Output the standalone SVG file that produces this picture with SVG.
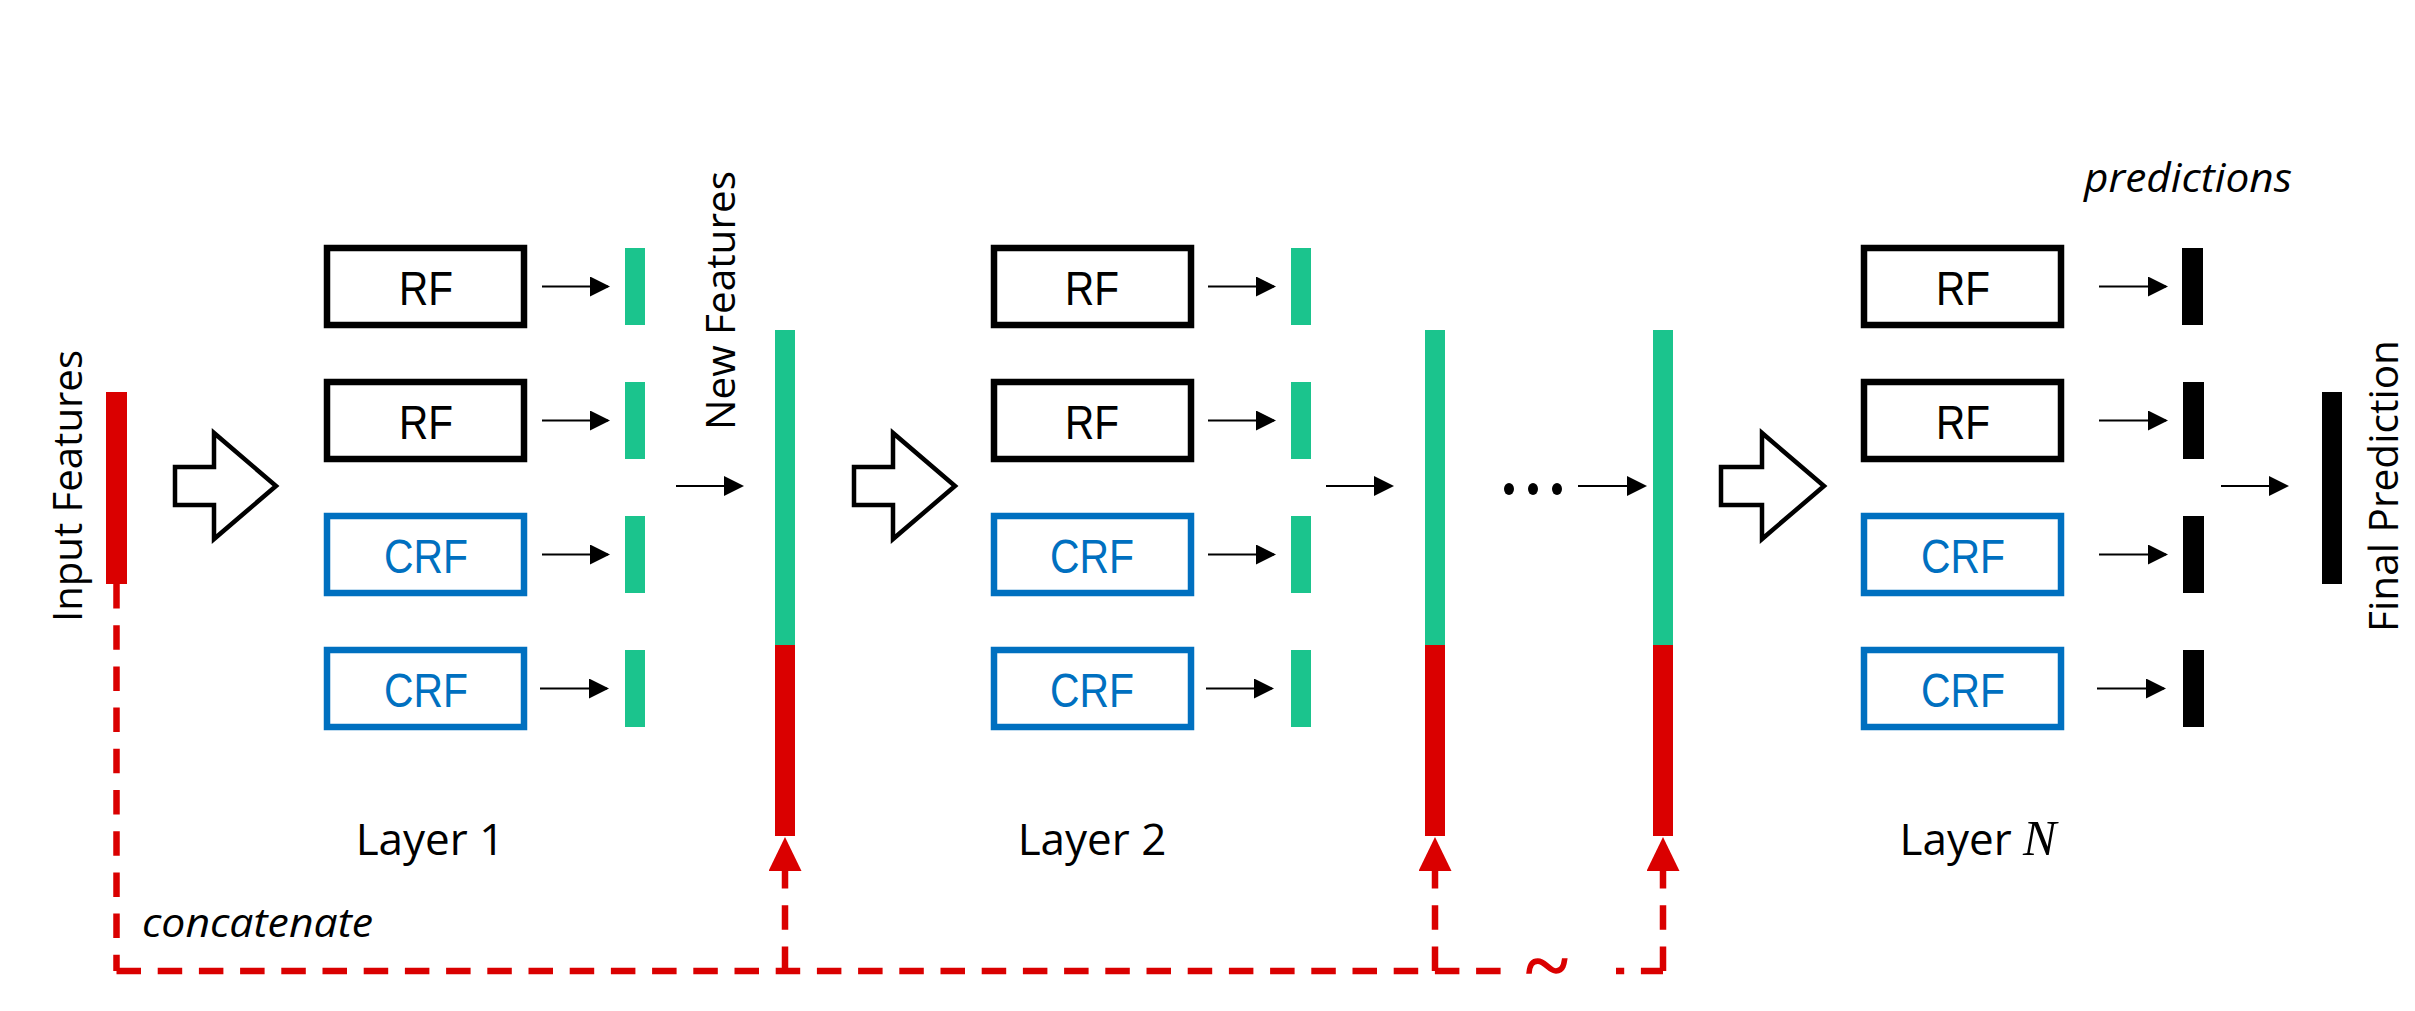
<svg xmlns="http://www.w3.org/2000/svg" width="2415" height="1011" viewBox="0 0 2415 1011">
<style>
.rf{fill:#fff;stroke:#000;stroke-width:6.5}
.crf{fill:#fff;stroke:#0070C0;stroke-width:6.5}
.t{font-family:"Liberation Sans",Arial,sans-serif;font-size:48px;text-anchor:middle;fill:#000}
.tb{fill:#0070C0}
.big{fill:#fff;stroke:#000;stroke-width:4.5;stroke-linejoin:miter}
.g{fill:#1BC48D}
.r{fill:#DA0000}
.k{fill:#000}
.os{font-family:"Open Sans","Liberation Sans",sans-serif;font-size:40px;fill:#000}
.it{font-style:italic}
.lay{font-family:"Open Sans","Liberation Sans",sans-serif;font-size:44px;text-anchor:middle;fill:#000}
.ar{stroke:#000;stroke-width:2;fill:none;marker-end:url(#ah)}
.ds{stroke:#DA0000;stroke-width:6.5;fill:none;stroke-dasharray:24.5 16.7}
.up{stroke:#DA0000;stroke-width:6.5;fill:none;stroke-dasharray:24.5 16.7;marker-end:url(#rh)}
</style>
<defs>
<marker id="ah" markerUnits="userSpaceOnUse" markerWidth="20" markerHeight="20" refX="18" refY="10" orient="auto"><path d="M0,0 L20,10 L0,20 z" fill="#000"/></marker>
<marker id="rh" markerUnits="userSpaceOnUse" markerWidth="34" markerHeight="33" refX="0" refY="16.5" orient="auto"><path d="M0,0 L34,16.5 L0,33 z" fill="#DA0000"/></marker>
</defs>
<rect width="2415" height="1011" fill="#fff"/>

<g id="input-features">
<rect class="r" x="106" y="392" width="21" height="192"/>
<text class="os" transform="translate(82,622) rotate(-90)" textLength="272" lengthAdjust="spacingAndGlyphs">Input Features</text>
</g>

<g id="block-arrow-1"><polygon class="big" points="175,467 214,467 214,433 276,486 214,539 214,505 175,505"/></g>
<g id="block-arrow-2"><polygon class="big" points="854,467 893,467 893,433 955,486 893,539 893,505 854,505"/></g>
<g id="block-arrow-3"><polygon class="big" points="1721,467 1762,467 1762,433 1824,486 1762,539 1762,505 1721,505"/></g>

<g id="layer1">
<g id="l1-rf1"><rect class="rf" x="327" y="248" width="197" height="77"/><text class="t" x="426" y="305" textLength="54" lengthAdjust="spacingAndGlyphs">RF</text></g>
<g id="l1-rf2"><rect class="rf" x="327" y="382" width="197" height="77"/><text class="t" x="426" y="439" textLength="54" lengthAdjust="spacingAndGlyphs">RF</text></g>
<g id="l1-crf1"><rect class="crf" x="327" y="516" width="197" height="77"/><text class="t tb" x="426" y="573" textLength="84" lengthAdjust="spacingAndGlyphs">CRF</text></g>
<g id="l1-crf2"><rect class="crf" x="327" y="650" width="197" height="77"/><text class="t tb" x="426" y="707" textLength="84" lengthAdjust="spacingAndGlyphs">CRF</text></g>
<g id="l1-out"><rect class="g" x="625" y="248" width="20" height="77"/><rect class="g" x="625" y="382" width="20" height="77"/><rect class="g" x="625" y="516" width="20" height="77"/><rect class="g" x="625" y="650" width="20" height="77"/></g>
<text class="lay" x="430" y="855">Layer 1</text>
</g>

<g id="new-features">
<rect class="g" x="775" y="330" width="20" height="315"/>
<rect class="r" x="775" y="645" width="20" height="191"/>
<text class="os" transform="translate(735,430) rotate(-90)" textLength="259" lengthAdjust="spacingAndGlyphs">New Features</text>
</g>

<g id="layer2">
<g id="l2-rf1"><rect class="rf" x="994" y="248" width="197" height="77"/><text class="t" x="1092" y="305" textLength="54" lengthAdjust="spacingAndGlyphs">RF</text></g>
<g id="l2-rf2"><rect class="rf" x="994" y="382" width="197" height="77"/><text class="t" x="1092" y="439" textLength="54" lengthAdjust="spacingAndGlyphs">RF</text></g>
<g id="l2-crf1"><rect class="crf" x="994" y="516" width="197" height="77"/><text class="t tb" x="1092" y="573" textLength="84" lengthAdjust="spacingAndGlyphs">CRF</text></g>
<g id="l2-crf2"><rect class="crf" x="994" y="650" width="197" height="77"/><text class="t tb" x="1092" y="707" textLength="84" lengthAdjust="spacingAndGlyphs">CRF</text></g>
<g id="l2-out"><rect class="g" x="1291" y="248" width="20" height="77"/><rect class="g" x="1291" y="382" width="20" height="77"/><rect class="g" x="1291" y="516" width="20" height="77"/><rect class="g" x="1291" y="650" width="20" height="77"/></g>
<text class="lay" x="1092" y="855">Layer 2</text>
</g>

<g id="features-2">
<rect class="g" x="1425" y="330" width="20" height="315"/>
<rect class="r" x="1425" y="645" width="20" height="191"/>
</g>

<g id="ellipsis">
<ellipse cx="1509" cy="489" rx="5" ry="6" fill="#000"/>
<ellipse cx="1533" cy="489" rx="5" ry="6" fill="#000"/>
<ellipse cx="1557" cy="489" rx="5" ry="6" fill="#000"/>
</g>

<g id="features-n">
<rect class="g" x="1653" y="330" width="20" height="315"/>
<rect class="r" x="1653" y="645" width="20" height="191"/>
</g>

<g id="layerN">
<g id="ln-rf1"><rect class="rf" x="1864" y="248" width="197" height="77"/><text class="t" x="1963" y="305" textLength="54" lengthAdjust="spacingAndGlyphs">RF</text></g>
<g id="ln-rf2"><rect class="rf" x="1864" y="382" width="197" height="77"/><text class="t" x="1963" y="439" textLength="54" lengthAdjust="spacingAndGlyphs">RF</text></g>
<g id="ln-crf1"><rect class="crf" x="1864" y="516" width="197" height="77"/><text class="t tb" x="1963" y="573" textLength="84" lengthAdjust="spacingAndGlyphs">CRF</text></g>
<g id="ln-crf2"><rect class="crf" x="1864" y="650" width="197" height="77"/><text class="t tb" x="1963" y="707" textLength="84" lengthAdjust="spacingAndGlyphs">CRF</text></g>
<g id="ln-out"><rect class="k" x="2182" y="248" width="21" height="77"/><rect class="k" x="2183" y="382" width="21" height="77"/><rect class="k" x="2183" y="516" width="21" height="77"/><rect class="k" x="2183" y="650" width="21" height="77"/></g>
<text class="lay" x="1978" y="855">Layer <tspan font-family="'Liberation Serif',serif" font-style="italic" font-size="50">N</tspan></text>
<text class="os it" x="2084" y="192" textLength="208" lengthAdjust="spacingAndGlyphs">predictions</text>
</g>

<g id="final-prediction">
<rect class="k" x="2322" y="392" width="20" height="192"/>
<text class="os" transform="translate(2398,632) rotate(-90)" textLength="292" lengthAdjust="spacingAndGlyphs">Final Prediction</text>
</g>

<g id="connectors">
<path class="ar" d="M542,286.5 H608"/>
<path class="ar" d="M542,420.5 H608"/>
<path class="ar" d="M542,554.5 H608"/>
<path class="ar" d="M540,688.5 H607"/>
<path class="ar" d="M676,486 H742"/>
<path class="ar" d="M1208,286.5 H1274"/>
<path class="ar" d="M1208,420.5 H1274"/>
<path class="ar" d="M1208,554.5 H1274"/>
<path class="ar" d="M1206,688.5 H1272"/>
<path class="ar" d="M1326,486 H1392"/>
<path class="ar" d="M1578,486 H1645"/>
<path class="ar" d="M2099,286.5 H2166"/>
<path class="ar" d="M2099,420.5 H2166"/>
<path class="ar" d="M2099,554.5 H2166"/>
<path class="ar" d="M2097,688.5 H2164"/>
<path class="ar" d="M2221,486 H2287"/>
<path class="ds" d="M116.5,584 V971"/>
<path class="ds" d="M116.5,971 H1506"/>
<path class="ds" d="M1616,971 H1663" stroke-dashoffset="16.3"/>
<path class="up" d="M785,971 V871"/>
<path class="up" d="M1435,971 V871"/>
<path class="up" d="M1663,971 V871"/>
<text x="1547" y="993" font-family="'Liberation Serif',serif" font-size="82" fill="#DA0000" stroke="#DA0000" stroke-width="1.5" text-anchor="middle">~</text>
<text class="os it" x="142" y="937" textLength="231" lengthAdjust="spacingAndGlyphs">concatenate</text>
</g>
</svg>
